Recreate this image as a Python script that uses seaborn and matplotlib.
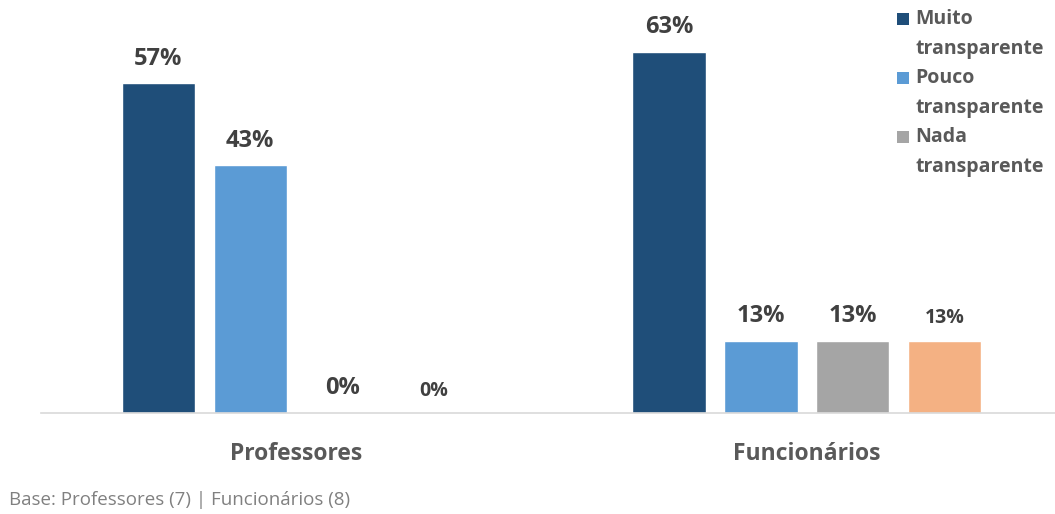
import matplotlib
matplotlib.use("Agg")
import matplotlib.pyplot as plt
import seaborn as sns
import pandas as pd
from matplotlib.patches import Rectangle

# ---- data ----
groups = ["Professores", "Funcionários"]
series = ["Muito transparente", "Pouco transparente", "Nada transparente", "Não respondeu"]
legend_labels = ["Muito\ntransparente", "Pouco\ntransparente", "Nada\ntransparente"]
professores = [57.1, 42.9, 0.0, 0.0]
funcionarios = [62.5, 12.5, 12.5, 12.5]
prof_labels = ["57%", "43%", "0%", "0%"]
func_labels = ["63%", "13%", "13%", "13%"]
colors = ["#1F4E79", "#5B9BD5", "#A5A5A5", "#F4B183"]
footnote = "Base: Professores (7) | Funcionários (8)"

rows = []
for s, p, f in zip(series, professores, funcionarios):
    rows.append({"grupo": groups[0], "serie": s, "valor": p})
    rows.append({"grupo": groups[1], "serie": s, "valor": f})
df = pd.DataFrame(rows)

sns.set_theme(style="white")
plt.rcParams["font.family"] = ["Open Sans", "DejaVu Sans"]

W, H = 1055, 514
fig = plt.figure(figsize=(W / 100, H / 100), dpi=100)
ax_left, ax_right = 41, 1062
ax_bottom, ax_top = 413, 0
ax = fig.add_axes([ax_left / W, (H - ax_bottom) / H, (ax_right - ax_left) / W, (ax_bottom - ax_top) / H])

sns.barplot(data=df, x="grupo", y="valor", hue="serie", order=groups, hue_order=series,
            palette=colors, width=0.72, gap=0.2, saturation=1, ax=ax, legend=False,
            errorbar=None)

ax.set_xlim(-0.5, 1.5)
ax.set_ylim(0, 71.5)
ax.set_xlabel("")
ax.set_ylabel("")
ax.set_yticks([])
for sp in ["top", "right", "left"]:
    ax.spines[sp].set_visible(False)
ax.spines["bottom"].set_color("#D9D9D9")
ax.spines["bottom"].set_linewidth(1.2)
ax.tick_params(axis="x", length=0, pad=21, labelsize=16.5, labelcolor="#595959")
for t in ax.get_xticklabels():
    t.set_fontweight("bold")

for i, cont in enumerate(ax.containers):
    labs = [prof_labels[i], func_labels[i]]
    size = 14 if i == 3 else 17
    ax.bar_label(cont, labels=labs, padding=9, fontsize=size, fontweight="bold", color="#404040")

# legend (manual, squares aligned with the first line of each entry)
entry_y = [19, 78, 137]
for lab, col, y in zip(legend_labels, colors[:3], entry_y):
    fig.patches.append(Rectangle((897 / W, (H - y - 6) / H), 12 / W, 12 / H,
                                 transform=fig.transFigure, facecolor=col, edgecolor="none"))
    first, second = lab.split("\n")
    fig.text(915 / W, (H - y) / H, first, ha="left", va="center", fontsize=14,
             fontweight="bold", color="#595959")
    fig.text(915 / W, (H - y - 30) / H, second, ha="left", va="center", fontsize=14,
             fontweight="bold", color="#595959")

fig.text(9 / W, (H - 500) / H, footnote, ha="left", va="center", fontsize=13.5, color="#808080")

fig.savefig("out.png", dpi=100)
